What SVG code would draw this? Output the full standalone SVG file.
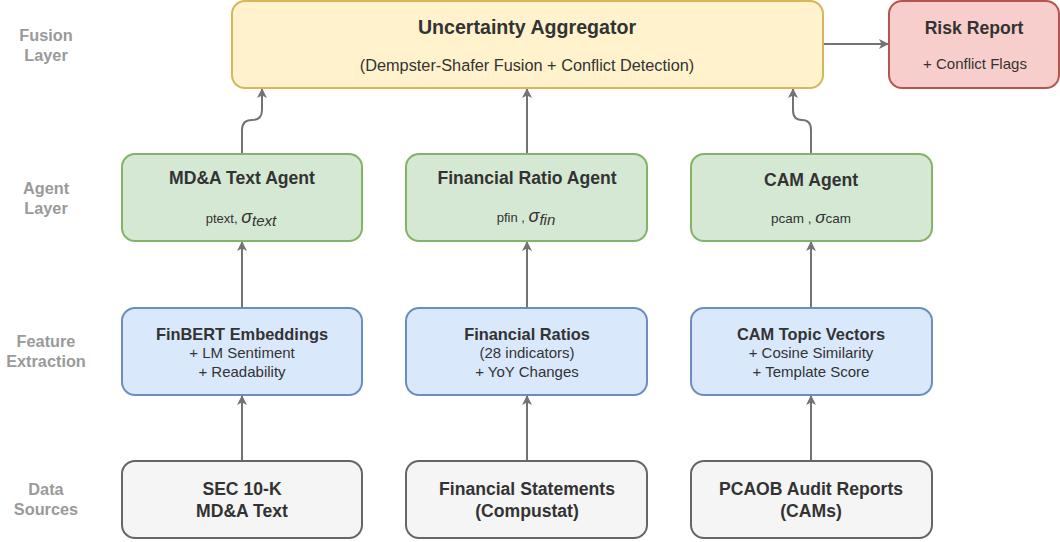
<svg xmlns="http://www.w3.org/2000/svg" width="1060" height="542" viewBox="0 0 1060 542">
<defs>
<marker id="ah" markerWidth="10" markerHeight="10" refX="9" refY="5" orient="auto" markerUnits="userSpaceOnUse" viewBox="0 0 10 10">
<path d="M0,0 L10,5 L0,10 L2.5,5 Z" fill="#737373"/>
</marker>
<style>
text{font-family:"Liberation Sans",Arial,sans-serif;fill:#333;text-anchor:middle}
.lay{fill:#9a9a9a;font-weight:bold;font-size:16.3px}
.t{font-weight:bold;font-size:17.6px}
.s{font-size:15px}
.box{stroke-width:2}
.fu{fill:#fff2cc;stroke:#d6b656}
.rk{fill:#f8cecc;stroke:#b85450}
.ag{fill:#d5e8d4;stroke:#82b366}
.fe{fill:#dae8fc;stroke:#6c8ebf}
.da{fill:#f5f5f5;stroke:#666}
.c{fill:none;stroke:#737373;stroke-width:2;marker-end:url(#ah)}
</style>
</defs>
<g id="layers">
<text class="lay" x="46" y="41">Fusion</text>
<text class="lay" x="46" y="61">Layer</text>
<text class="lay" x="46" y="194">Agent</text>
<text class="lay" x="46" y="214">Layer</text>
<text class="lay" x="46" y="347">Feature</text>
<text class="lay" x="46" y="367">Extraction</text>
<text class="lay" x="46" y="495">Data</text>
<text class="lay" x="46" y="515">Sources</text>
</g>
<g id="connectors">
<path class="c" d="M242,154 V130 Q242,120 252,120 Q262,120 262,110 V89"/>
<path class="c" d="M527,154 V89"/>
<path class="c" d="M811,154 V130 Q811,120 802,120 Q793,120 793,110 V89"/>
<path class="c" d="M823,44 H888"/>
<path class="c" d="M242,308 V242"/>
<path class="c" d="M527,308 V242"/>
<path class="c" d="M811,308 V242"/>
<path class="c" d="M242,461 V396"/>
<path class="c" d="M527,461 V396"/>
<path class="c" d="M811,461 V396"/>
</g>
<g id="aggregator">
<rect class="box fu" x="232" y="1" width="591" height="87" rx="13"/>
<text x="527" y="34" style="font-weight:bold;font-size:19.6px">Uncertainty Aggregator</text>
<text x="527" y="71" style="font-size:16.3px">(Dempster-Shafer Fusion + Conflict Detection)</text>
</g>
<g id="risk">
<rect class="box rk" x="889" y="1" width="170" height="87" rx="13"/>
<text class="t" x="974" y="34">Risk Report</text>
<text class="s" x="975" y="69">+ Conflict Flags</text>
</g>
<g id="agent-text">
<rect class="box ag" x="122" y="154" width="240" height="87" rx="13"/>
<text class="t" x="242" y="184">MD&amp;A Text Agent</text>
<text x="241" y="223"><tspan style="font-size:13px">ptext, </tspan><tspan style="font-size:18px;font-style:italic">σ</tspan><tspan style="font-size:15px;font-style:italic" dy="3">text</tspan></text>
</g>
<g id="agent-fin">
<rect class="box ag" x="406" y="154" width="241" height="87" rx="13"/>
<text class="t" x="527" y="184">Financial Ratio Agent</text>
<text x="526" y="222"><tspan style="font-size:13px">pfin , </tspan><tspan style="font-size:18px;font-style:italic">σ</tspan><tspan style="font-size:15px;font-style:italic" dy="3">fin</tspan></text>
</g>
<g id="agent-cam">
<rect class="box ag" x="691" y="154" width="241" height="87" rx="13"/>
<text class="t" x="811" y="186">CAM Agent</text>
<text x="811" y="223"><tspan style="font-size:13.5px">pcam , </tspan><tspan style="font-size:17px;font-style:italic">σ</tspan><tspan style="font-size:13.5px">cam</tspan></text>
</g>
<g id="feat-text">
<rect class="box fe" x="122" y="308" width="240" height="87" rx="13"/>
<text x="242" y="340" style="font-weight:bold;font-size:16.4px">FinBERT Embeddings</text>
<text class="s" x="242" y="358">+ LM Sentiment</text>
<text class="s" x="242" y="377">+ Readability</text>
</g>
<g id="feat-fin">
<rect class="box fe" x="406" y="308" width="241" height="87" rx="13"/>
<text x="527" y="340" style="font-weight:bold;font-size:16.4px">Financial Ratios</text>
<text class="s" x="527" y="358">(28 indicators)</text>
<text class="s" x="527" y="377">+ YoY Changes</text>
</g>
<g id="feat-cam">
<rect class="box fe" x="691" y="308" width="241" height="87" rx="13"/>
<text x="811" y="340" style="font-weight:bold;font-size:16.4px">CAM Topic Vectors</text>
<text class="s" x="811" y="358">+ Cosine Similarity</text>
<text class="s" x="811" y="377">+ Template Score</text>
</g>
<g id="data-sec">
<rect class="box da" x="122" y="461" width="240" height="77" rx="13"/>
<text class="t" x="242" y="495">SEC 10-K</text>
<text class="t" x="242" y="517">MD&amp;A Text</text>
</g>
<g id="data-fin">
<rect class="box da" x="406" y="461" width="241" height="77" rx="13"/>
<text class="t" x="527" y="495">Financial Statements</text>
<text class="t" x="527" y="517">(Compustat)</text>
</g>
<g id="data-cam">
<rect class="box da" x="691" y="461" width="241" height="77" rx="13"/>
<text class="t" x="811" y="495">PCAOB Audit Reports</text>
<text class="t" x="811" y="517">(CAMs)</text>
</g>
</svg>
